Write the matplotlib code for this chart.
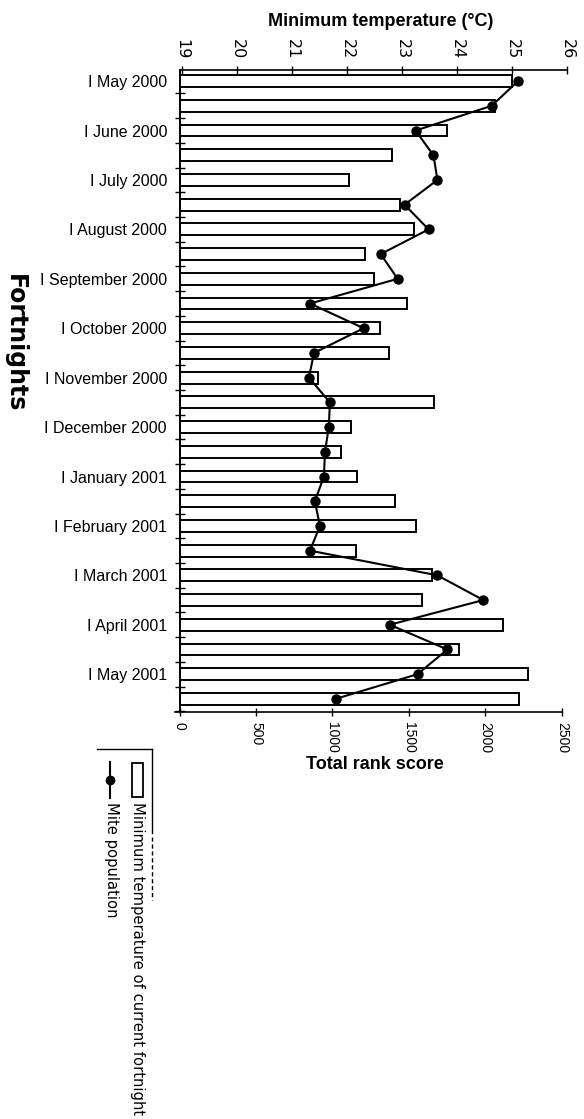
import numpy as np
import matplotlib
matplotlib.use("Agg")
import matplotlib.pyplot as plt
from matplotlib.lines import Line2D
from matplotlib.patches import Rectangle

# fortnights: I and II half of each month
months = ["May 2000", "June 2000", "July 2000", "August 2000", "September 2000",
          "October 2000", "November 2000", "December 2000", "January 2001",
          "February 2001", "March 2001", "April 2001", "May 2001"]
fortnights = [half + " " + m for m in months for half in ("I", "II")]

# minimum temperature of current fortnight (deg C)
min_temp = [25.0, 24.69, 23.81, 22.81, 22.03, 22.96, 23.21, 22.32, 22.5,
            23.1, 22.6, 22.77, 21.48, 23.58, 22.08, 21.9, 22.19, 22.88,
            23.26, 22.17, 23.54, 23.36, 24.83, 24.03, 25.3, 25.12]

# mite population (total rank score)
mite_pop = [2213, 2040, 1543, 1660, 1686, 1471, 1628, 1315, 1426, 853,
            1204, 879, 846, 983, 976, 951, 944, 885, 918, 853, 1686, 1986,
            1374, 1751, 1556, 1020]

W, H = 584, 1119


def px(x, y):
    return x / W, 1 - y / H


plt.rcParams['font.family'] = ['Liberation Sans', 'DejaVu Sans']

fig = plt.figure(figsize=(W / 100, H / 100), dpi=100)
ax = fig.add_axes([179.5 / W, 1 - 712 / H, (567 - 179.5) / W, (712 - 70) / H])
ax2 = ax.twiny()

y = np.arange(len(fortnights))
t0 = 18.955
ax.barh(y, np.array(min_temp) - t0, left=t0, height=0.48, color="white",
        edgecolor="black", linewidth=1.4)
ax.set_xlim(t0, 26)
ax.set_ylim(25.53, -0.45)

# temperature axis on top
ax.xaxis.tick_top()
ax.xaxis.set_label_position("top")
ax.set_xticks(range(19, 27))
ax.tick_params(axis="x", direction="inout", length=6, width=1, pad=5,
               labelrotation=-90, labelsize=11.5, labelfontfamily="DejaVu Sans")
ax.set_xlabel("Minimum temperature (\u00b0C)", fontsize=13, fontweight="bold")
ax.xaxis.set_label_coords(0.52, 1.075)
ax.xaxis.label.set_va("center")

# fortnight labels on the I halves, tick marks between bars
ax.set_yticks(y[::2])
ax.set_yticklabels(fortnights[::2])
ax.set_yticks(np.arange(0.5, 25.6, 1), minor=True)
ax.tick_params(axis="y", which="major", length=0, pad=9, labelsize=11.5)
ax.tick_params(axis="y", which="minor", direction="inout", length=7, width=1)

for s in ("right", "bottom"):
    ax.spines[s].set_visible(False)
ax.spines["top"].set_linewidth(1.2)
ax.spines["left"].set_linewidth(1.4)

# mite population on the bottom axis
ax2.plot(mite_pop, y, color="black", linewidth=1.5, marker="o",
         markersize=6.5, markerfacecolor="black")
ax2.set_xlim(0, 2533)
ax2.xaxis.tick_bottom()
ax2.xaxis.set_label_position("bottom")
ax2.set_xticks(range(0, 2501, 500))
ax2.tick_params(axis="x", direction="inout", length=6, width=1, pad=4,
                labelrotation=-90, labelsize=10)
ax2.set_xlabel("Total rank score", fontsize=13, fontweight="bold")
ax2.xaxis.set_label_coords(0.505, -0.081)
ax2.xaxis.label.set_va("center")
for s in ("top", "left", "right"):
    ax2.spines[s].set_visible(False)
ax2.spines["bottom"].set_bounds(-30, 2500)
ax2.spines["bottom"].set_linewidth(1.2)

fig.text(*px(15, 343), "Fortnights", rotation=-90, fontsize=17,
         fontweight="bold", family="DejaVu Sans", ha="center", va="center")

# legend, turned on its side below the plot
fig.add_artist(Line2D([97 / W, 152 / W], [1 - 749 / H, 1 - 749 / H],
                      color="black", linewidth=1))
fig.add_artist(Line2D([152 / W, 152 / W], [1 - 749 / H, 1 - 833 / H],
                      color="black", linewidth=1))
fig.add_artist(Line2D([152 / W, 152 / W], [1 - 837 / H, 1 - 900 / H],
                      color="black", linewidth=1, linestyle=(0, (3, 2))))
fig.add_artist(Rectangle(px(132, 797), 11 / W, 34 / H, facecolor="white",
                         edgecolor="black", linewidth=1.3))
fig.add_artist(Line2D([110 / W, 110 / W], [1 - 762 / H, 1 - 798 / H],
                      color="black", linewidth=1.5))
fig.add_artist(Line2D([110 / W], [1 - 780 / H], marker="o", markersize=6,
                      color="black"))
fig.text(*px(137, 802), "Minimum temperature of current fortnight",
         rotation=-90, fontsize=10.6, family="DejaVu Sans", ha="center", va="top")
fig.text(*px(111, 802), "Mite population", rotation=-90, fontsize=10.6,
         family="DejaVu Sans", ha="center", va="top")

fig.savefig("out.png", dpi=100)
